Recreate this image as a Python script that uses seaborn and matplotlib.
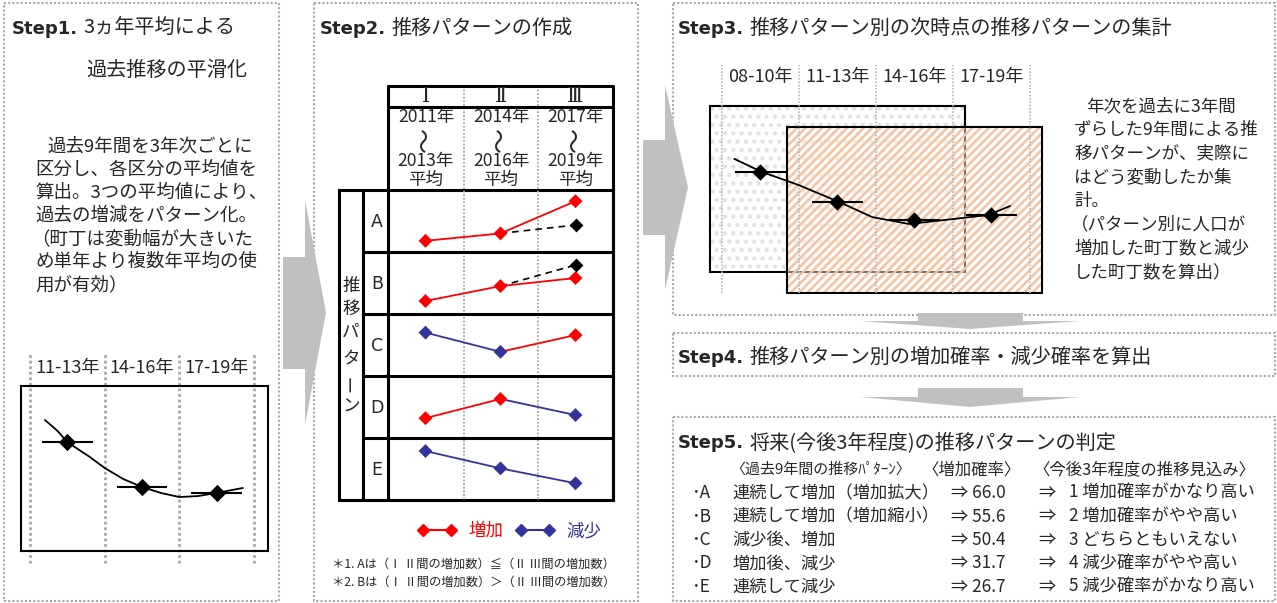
import matplotlib
matplotlib.use("Agg")
import matplotlib.pyplot as plt
from matplotlib.patches import Rectangle, Polygon
from matplotlib.lines import Line2D
import seaborn as sns

W, H = 1277, 603
RED = "#ff0000"
BLUE = "#333399"
GRID = "#a8a8a8"
ARROW = "#c0c0c0"

# ---- data ----
# Step1: 3-year averages and the smoothed trend
step1_periods = ["11-13年", "14-16年", "17-19年"]
step1_avg = [66.0, 38.8, 35.2]
step1_trend_x = [0.7, 0.87, 1.0, 1.3, 1.5, 1.75, 2.0, 2.25, 2.5, 2.75, 3.0, 3.35]
step1_trend_y = [79.4, 72.7, 66.0, 57.0, 50.3, 43.6, 38.8, 35.2, 32.7, 33.3, 35.2, 38.2]

# Step3: shifted 9-year window
step3_periods = ["08-10年", "11-13年", "14-16年", "17-19年"]
step3_avg = [64.7, 48.7, 39.0, 41.7]
step3_trend_x = [0.66, 1.02, 1.49, 2.02, 2.45, 2.93, 3.45, 3.96, 4.24]
step3_trend_y = [71.7, 64.7, 57.8, 48.7, 40.6, 36.9, 39.3, 41.7, 46.5]

# Step2: transition patterns (I, II, III)
pattern_names = ["A", "B", "C", "D", "E"]
pattern_a = [1.8, 3.0, 8.2]
pattern_b = [2.1, 4.5, 5.8]
pattern_c = [7.0, 3.9, 6.6]
pattern_d = [3.2, 6.3, 3.7]
pattern_e = [7.9, 5.1, 2.7]
pattern_ref = {"A": 4.35, "B": 7.9}   # dashed: same increase as I->II
period_numerals = ["Ⅰ", "Ⅱ", "Ⅲ"]
period_from = ["2011年", "2014年", "2017年"]
period_to = ["2013年", "2016年", "2019年"]

# Step5: judgement table
step5_codes = ["･A", "･B", "･C", "･D", "･E"]
step5_history = ["連続して増加（増加拡大）", "連続して増加（増加縮小）",
                 "減少後、増加", "増加後、減少", "連続して減少"]
step5_rate = [66.0, 55.6, 50.4, 31.7, 26.7]
step5_outlook = ["1 増加確率がかなり高い", "2 増加確率がやや高い", "3 どちらともいえない",
                 "4 減少確率がやや高い", "5 減少確率がかなり高い"]

patterns = dict(zip(pattern_names, [pattern_a, pattern_b, pattern_c, pattern_d, pattern_e]))

# ---- theme ----
sns.set_theme(style="white")
plt.rcParams["font.family"] = ["Noto Sans CJK JP", "DejaVu Sans"]
plt.rcParams["hatch.linewidth"] = 1.8

fig = plt.figure(figsize=(W / 100, H / 100), dpi=100, facecolor="white")
bg = fig.add_axes([0, 0, 1, 1])
bg.set_xlim(0, W)
bg.set_ylim(H, 0)
bg.axis("off")


def px_axes(x0, y0, x1, y1):
    # axes placed in pixel coordinates of the canvas
    ax = fig.add_axes([x0 / W, 1 - y1 / H, (x1 - x0) / W, (y1 - y0) / H])
    ax.set_facecolor("none")
    return ax


def step_title(x, y, step, rest):
    t = bg.text(x, y, step, fontsize=13, fontweight="bold", family="DejaVu Sans", va="baseline")
    bb = t.get_window_extent(renderer=fig.canvas.get_renderer())
    x1 = bg.transData.inverted().transform((bb.x1, bb.y0))[0]
    bg.text(x1 + 5, y, rest, fontsize=14.5, va="baseline")


# ---- panels and arrows ----
for x0, y0, x1, y1 in [(4, 3, 279, 601), (314, 3, 638, 601), (673, 3, 1275, 315),
                       (673, 333, 1275, 376), (673, 417, 1275, 601)]:
    bg.add_patch(Rectangle((x0, y0), x1 - x0, y1 - y0, fill=False, ec=GRID, lw=1.5, ls=(0, (1, 1))))

for xs, xh, xt, yh0, ys0, ys1, yh1 in [(283, 305, 326, 200, 257, 369, 425),
                                       (643, 665, 688, 85, 140, 235, 290)]:
    bg.add_patch(Polygon([(xs, ys0), (xh, ys0), (xh, yh0), (xt, (yh0 + yh1) / 2),
                          (xh, yh1), (xh, ys1), (xs, ys1)], closed=True, fc=ARROW, ec="none"))

for y0, yb, yt in [(313, 321, 329), (388, 397, 407)]:
    bg.add_patch(Polygon([(918, y0), (1023, y0), (1023, yb), (1080, yb), (970, yt),
                          (860, yb), (918, yb)], closed=True, fc=ARROW, ec="none", zorder=3))

# ---- Step1 ----
step_title(12, 34, "Step1.", "3ヵ年平均による")
bg.text(86, 70, "過去推移の平滑化", fontsize=14.5, va="center")
step1_lines = ["過去9年間を3年次ごとに", "区分し、各区分の平均値を", "算出。3つの平均値により、",
               "過去の増減をパターン化。", "（町丁は変動幅が大きいた", "め単年より複数年平均の使",
               "用が有効）"]
for i, line in enumerate(step1_lines):
    x = 47 if i == 0 else (31 if line.startswith("（") else 35)
    bg.text(x, 147 + i * 23, line, fontsize=13.3, va="center")

ax1 = px_axes(21, 386, 268, 551)
xs1 = list(range(1, len(step1_avg) + 1))
sns.lineplot(x=step1_trend_x, y=step1_trend_y, color="black", lw=1.3, ax=ax1)
ax1.hlines(step1_avg, [x - 0.34 for x in xs1], [x + 0.34 for x in xs1], color="black", lw=1.5)
sns.scatterplot(x=xs1, y=step1_avg, marker="D", s=78, color="black", linewidth=0, zorder=4, ax=ax1)
ax1.set_xlim(0.3795, 3.686)
ax1.set_ylim(0, 100)
for b in [x - 0.5 for x in xs1] + [xs1[-1] + 0.5]:
    ax1.axvline(b, ymin=-0.073, ymax=1.2, clip_on=False, color=GRID, lw=2, ls=(0, (1, 1)), zorder=0)
for x, lab in zip(xs1, step1_periods):
    ax1.text(x, 111, lab, ha="center", va="center", fontsize=13)
ax1.set_xticks([])
ax1.set_yticks([])
ax1.set_xlabel("")
ax1.set_ylabel("")
for s in ax1.spines.values():
    s.set_color("black")
    s.set_linewidth(1.5)

# ---- Step2 ----
step_title(320, 34, "Step2.", "推移パターンの作成")
col_edges = [388, 464, 538, 613]
row_edges = [190, 252, 314, 376, 438, 500]
for xg in col_edges[1:-1]:
    bg.plot([xg, xg], [86, row_edges[-1]], color=GRID, lw=1.3, ls=(0, (1, 1)))
bg.plot([388, 613, 613], [86, 86, 500], color="black", lw=2.2)
bg.plot([388, 388], [86, 500], color="black", lw=2.2)
bg.plot([388, 613], [107, 107], color="black", lw=2.2)
bg.add_patch(Rectangle((339, 190), 613 - 339, 500 - 190, fill=False, ec="black", lw=2.2))
bg.plot([363, 363], [190, 500], color="black", lw=2.2)
for yr in row_edges[1:-1]:
    bg.plot([363, 613], [yr, yr], color="black", lw=2.2)

centers = [(a + b) / 2 for a, b in zip(col_edges[:-1], col_edges[1:])]
for cx, num, y0, y1 in zip(centers, period_numerals, period_from, period_to):
    bg.text(cx, 97, num, ha="center", va="center", fontsize=15,
            family=["DejaVu Serif", "Noto Sans CJK JP"])
    bg.text(cx, 117, y0, ha="center", va="center", fontsize=12.6)
    bg.text(cx, 139, "〜", ha="center", va="center", fontsize=18, rotation=90)
    bg.text(cx, 161, y1, ha="center", va="center", fontsize=12.6)
    bg.text(cx, 180, "平均", ha="center", va="center", fontsize=12.6)

for ch, yc in zip("推移パターン", [286, 309, 332, 359, 383, 407]):
    bg.text(351, yc, ch, ha="center", va="center", fontsize=12.6, rotation=90 if ch == "ー" else 0)

for i, name in enumerate(pattern_names):
    top, bot = row_edges[i], row_edges[i + 1]
    bg.text(377, (top + bot) / 2 + 1, name, ha="center", va="center", fontsize=12.5, family="DejaVu Sans")
    ax = px_axes(col_edges[0], top, col_edges[-1], bot)
    vals = patterns[name]
    xs = [1, 2, 3]
    seg_colors = [RED if vals[j + 1] > vals[j] else BLUE for j in range(2)]
    if name in pattern_ref:
        sns.lineplot(x=[2, 3], y=[vals[1], pattern_ref[name]], color="black", lw=1.2,
                     linestyle=(0, (4, 3)), ax=ax)
        sns.scatterplot(x=[3], y=[pattern_ref[name]], marker="D", s=50, color="black",
                        linewidth=0, zorder=3, ax=ax)
    for j in range(2):
        sns.lineplot(x=[xs[j], xs[j + 1]], y=[vals[j], vals[j + 1]], color=seg_colors[j], lw=1.3, ax=ax)
    pt_colors = [seg_colors[0], seg_colors[0], seg_colors[1]]
    sns.scatterplot(x=xs, y=vals, hue=pt_colors, palette={RED: RED, BLUE: BLUE}, legend=False,
                    marker="D", s=50, linewidth=0, zorder=4, ax=ax)
    ax.set_xlim(0.5, 3.5)
    ax.set_ylim(0, 10)
    ax.axis("off")

handles = [Line2D([0], [0], color=RED, marker="D", markersize=6, lw=1.5),
           Line2D([0], [0], color=BLUE, marker="D", markersize=6, lw=1.5)]
leg = fig.legend(handles, ["増加", "減少"], loc="center left", bbox_to_anchor=(418 / W, 1 - 531 / H),
                 ncol=2, frameon=False, numpoints=2, handlelength=2.2, handletextpad=0.7,
                 columnspacing=0.7, borderpad=0, borderaxespad=0, fontsize=12.6)
for t, c in zip(leg.get_texts(), [RED, BLUE]):
    t.set_color(c)

bg.text(332, 564, "＊1. Aは（Ⅰ Ⅱ間の増加数）≦（Ⅱ Ⅲ間の増加数）", fontsize=8.8, va="center")
bg.text(332, 582, "＊2. Bは（Ⅰ Ⅱ間の増加数）＞（Ⅱ Ⅲ間の増加数）", fontsize=8.8, va="center")

# ---- Step3 ----
step_title(678, 34, "Step3.", "推移パターン別の次時点の推移パターンの集計")
ax3 = px_axes(700, 65, 1050, 295)
xs3 = list(range(1, len(step3_avg) + 1))
pad, lift, box_h = 0.66, 11.2, 88.8
for k, (start, end) in enumerate([(1, 3), (2, 4)]):
    y0 = lift if k == 0 else 0
    if k == 0:
        ax3.add_patch(Rectangle((start - pad, y0), end - start + 2 * pad, box_h, fc="white",
                                hatch="..", ec="#e2e2e2", lw=0, zorder=1))
    else:
        ax3.add_patch(Rectangle((start - pad, y0), end - start + 2 * pad, box_h, fc=(1, 1, 1, 0.45),
                                hatch="////", ec="#f8c29c", lw=0, zorder=1.2))
    ax3.add_patch(Rectangle((start - pad, y0), end - start + 2 * pad, box_h, fill=False,
                            ec="black", lw=1.5, zorder=1.1 + 0.2 * k))
ax3.vlines([x - 0.5 for x in xs3] + [xs3[-1] + 0.5], 0, 121.9, color="#b8b8b8", lw=1.2,
           ls=(0, (1, 1)), zorder=2)
sns.lineplot(x=step3_trend_x, y=step3_trend_y, color="black", lw=1.3, ax=ax3, zorder=4)
ax3.hlines(step3_avg, [x - 0.33 for x in xs3], [x + 0.33 for x in xs3], color="black", lw=1.5, zorder=4)
sns.scatterplot(x=xs3, y=step3_avg, marker="D", s=70, color="black", linewidth=0, zorder=5, ax=ax3)
for x, lab in zip(xs3, step3_periods):
    ax3.text(x, 115.5, lab, ha="center", va="center", fontsize=13)
ax3.set_xlim(0.2143, 4.76)
ax3.set_ylim(-1.07, 121.9)
ax3.axis("off")

step3_lines = ["年次を過去に3年間", "ずらした9年間による推", "移パターンが、実際に",
               "はどう変動したか集", "計。", "（パターン別に人口が", "増加した町丁数と減少",
               "した町丁数を算出）"]
for i, line in enumerate(step3_lines):
    x = 1086 if i == 0 else (1071 if line.startswith("（") else 1074)
    bg.text(x, 106 + i * 23.7, line, fontsize=12.6, va="center")

# ---- Step4 ----
step_title(678, 363, "Step4.", "推移パターン別の増加確率・減少確率を算出")

# ---- Step5 ----
step_title(678, 448, "Step5.", "将来(今後3年程度)の推移パターンの判定")
bg.text(730, 470, "〈過去9年間の推移ﾊﾟﾀｰﾝ〉", fontsize=10.8, va="center")
bg.text(922, 470, "〈増加確率〉", fontsize=11.8, va="center")
bg.text(1033, 470, "〈今後3年程度の推移見込み〉", fontsize=11.8, va="center")
for i, (code, hist, rate, outlook) in enumerate(zip(step5_codes, step5_history, step5_rate, step5_outlook)):
    y = 493 + i * 23.5
    bg.text(691, y, code, fontsize=12.4, va="center")
    bg.text(732, y, hist, fontsize=12.4, va="center")
    bg.text(951, y, f"⇒ {rate:.1f}", fontsize=12.4, va="center")
    bg.text(1038, y, "⇒", fontsize=12.4, va="center")
    bg.text(1069, y, outlook, fontsize=12.4, va="center")

fig.savefig("out.png", dpi=100, facecolor="white")
